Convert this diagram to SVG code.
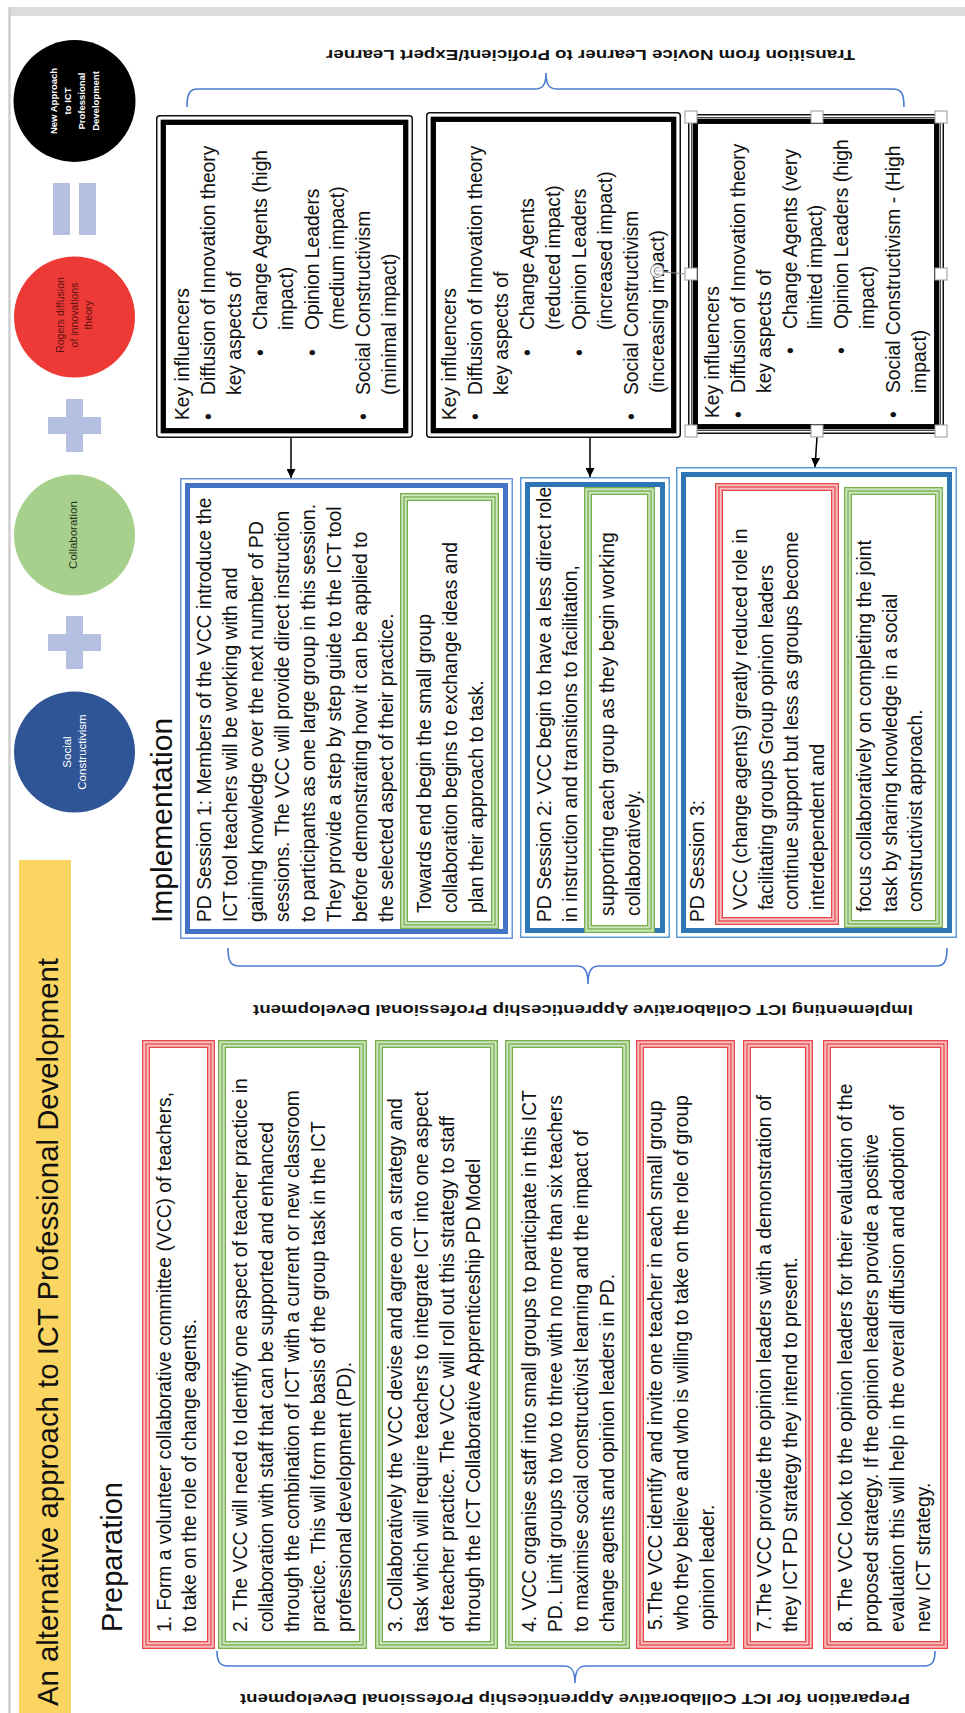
<svg xmlns="http://www.w3.org/2000/svg" width="965" height="1713" viewBox="0 0 965 1713">
<defs>
<style>
.t{font-family:"Liberation Sans",Arial,sans-serif;font-size:19.3px;fill:#111}
.hd{font-family:"Liberation Sans",Arial,sans-serif;font-size:30px;fill:#111}
.lbl{font-family:"Liberation Sans",Arial,sans-serif;font-weight:bold;font-size:15px;fill:#111}
.ct{font-family:"Liberation Sans",Arial,sans-serif;text-anchor:middle}
.kbo{fill:#fff;stroke:#111;stroke-width:1.5}
.kbi{fill:none;stroke:#000;stroke-width:5.3}
.s1o{fill:#fff;stroke:#6d93d8;stroke-width:1.5}
.s1i{fill:none;stroke:#4472c4;stroke-width:5}
.s2o{fill:#fff;stroke:#5a9bd5;stroke-width:1.5}
.s2i{fill:none;stroke:#2e75b6;stroke-width:5}
.rband{fill:#fff;stroke:#f8c0c0;stroke-width:8}
.rl{fill:none;stroke:#e8474a;stroke-width:1.3}
.gband{fill:#fff;stroke:#cfe5c0;stroke-width:8}
.gl{fill:none;stroke:#74af4c;stroke-width:1.3}
.brace{fill:none;stroke:#4a7bd0;stroke-width:1.6}
.sym{fill:#b4bfe2}
.hdl{fill:#fff;stroke:#9a9a9a;stroke-width:1}
.conn{stroke:#000;stroke-width:1.5;fill:none;marker-end:url(#ah)}
</style>
<marker id="ah" markerWidth="10" markerHeight="9" refX="9" refY="4.5" orient="auto" markerUnits="userSpaceOnUse"><path d="M0,0 L9,4.5 L0,9 Z" fill="#000"/></marker>
</defs>

<!-- page -->
<rect x="0" y="0" width="965" height="1713" fill="#fff"/>
<rect x="9" y="7" width="956" height="9" fill="#dcdcdc"/>
<line x1="9.5" y1="7" x2="9.5" y2="1713" stroke="#cccccc" stroke-width="2.4"/>

<!-- title bar -->
<g id="title">
<rect x="19" y="860" width="52" height="853" fill="#fad561"/>
<g transform="translate(0,1706) rotate(-90)"><text class="t" style="font-size:29px" x="0" y="58" textLength="748" lengthAdjust="spacingAndGlyphs">An alternative approach to ICT Professional Development</text></g>
</g>

<!-- equation of circles -->
<g id="new-approach">
<circle cx="74.5" cy="101" r="61" fill="#000"/>
<text class="ct" transform="translate(74.5,101) rotate(-90)" style="font-size:9.5px;font-weight:bold;fill:#fff"><tspan x="0" y="-17.5">New Approach</tspan><tspan x="0" y="-3.5">to ICT</tspan><tspan x="0" y="10.5">Professional</tspan><tspan x="0" y="24.5">Development</tspan></text>
</g>
<g id="equals">
<rect class="sym" x="53" y="183" width="17" height="52"/>
<rect class="sym" x="79" y="183" width="17" height="52"/>
</g>
<g id="rogers">
<circle cx="74.5" cy="317" r="60.5" fill="#ee3a36"/>
<text class="ct" transform="translate(74.5,315) rotate(-90)" style="font-size:10.5px;fill:#5e1212"><tspan x="0" y="-10.5">Rogers diffusion</tspan><tspan x="0" y="3.5">of innovations</tspan><tspan x="0" y="17.5">theory</tspan></text>
</g>
<g id="plus-1">
<rect class="sym" x="48" y="417" width="53" height="17"/>
<rect class="sym" x="66" y="399" width="17" height="53"/>
</g>
<g id="collaboration">
<circle cx="74.5" cy="535" r="60.5" fill="#a8d08d"/>
<text class="ct" transform="translate(74.5,535) rotate(-90)" style="font-size:11.5px;fill:#25361a"><tspan x="0" y="2.5">Collaboration</tspan></text>
</g>
<g id="plus-2">
<rect class="sym" x="48" y="634" width="53" height="17"/>
<rect class="sym" x="66" y="616" width="17" height="53"/>
</g>
<g id="social-constructivism">
<circle cx="74.5" cy="752" r="60.5" fill="#2f5597"/>
<text class="ct" transform="translate(74.5,752) rotate(-90)" style="font-size:11.5px;fill:#fff"><tspan x="0" y="-3.5">Social</tspan><tspan x="0" y="11.5">Constructivism</tspan></text>
</g>

<!-- headings -->
<g transform="translate(0,923) rotate(-90)"><text class="hd" x="0" y="171.5">Implementation</text></g>
<g transform="translate(0,1632) rotate(-90)"><text class="hd" style="font-size:29px" x="0" y="122">Preparation</text></g>

<!-- braces and their labels -->
<g id="braces">
<path class="brace" d="M187,107 C187,93 190,89 198,89 L535,89 C542,89 546,86 546,73 C546,86 550,89 557,89 L893,89 C901,89 904,93 904,107"/>
<path class="brace" d="M228,948 C228,962 231,966 239,966 L577,966 C584,966 588,970 588,984 C588,970 592,966 599,966 L936,966 C944,966 947,962 947,948"/>
<path class="brace" d="M217,1651 C217,1662 220,1666 228,1666 L564,1666 C571,1666 575,1670 575,1683 C575,1670 579,1666 586,1666 L924,1666 C932,1666 935,1662 935,1651"/>
<text class="lbl" transform="rotate(180 590.5 55)" x="590.5" y="60" text-anchor="middle" textLength="529" lengthAdjust="spacingAndGlyphs">Transition from Novice Learner to Proficient/Expert Learner</text>
<text class="lbl" transform="rotate(180 583 1010)" x="583" y="1015" text-anchor="middle" textLength="660" lengthAdjust="spacingAndGlyphs">Implementing ICT Collaborative Apprenticeship Professional Development</text>
<text class="lbl" transform="rotate(180 575 1699)" x="575" y="1704" text-anchor="middle" textLength="670" lengthAdjust="spacingAndGlyphs">Preparation for ICT Collaborative Apprenticeship Professional Development</text>
</g>

<!-- key influencer boxes -->
<g id="influencers-1">
<rect class="kbo" x="156.75" y="115.75" width="255.5" height="321.5" rx="3"/>
<rect class="kbi" x="163.3" y="122.3" width="242.4" height="308.4"/>
<g class="t" transform="translate(0,420) rotate(-90)">
<text x="0" y="189">Key influencers</text>
<text x="0" y="215">•</text><text x="25" y="215">Diffusion of Innovation theory</text>
<text x="25" y="241">key aspects of</text>
<text x="64" y="267">•</text><text x="90" y="267">Change Agents (high</text>
<text x="90" y="293">impact)</text>
<text x="64" y="319">•</text><text x="90" y="319">Opinion Leaders</text>
<text x="90" y="344">(medium impact)</text>
<text x="0" y="370">•</text><text x="25" y="370">Social Constructivism</text>
<text x="25" y="396">(minimal impact)</text>
</g>
</g>
<g id="influencers-2">
<rect class="kbo" x="426.75" y="112.75" width="253.5" height="324.5" rx="3"/>
<rect class="kbi" x="433.3" y="119.3" width="240.4" height="311.4"/>
<g class="t" transform="translate(0,420) rotate(-90)">
<text x="0" y="456">Key influencers</text>
<text x="0" y="482">•</text><text x="25" y="482">Diffusion of Innovation theory</text>
<text x="25" y="508">key aspects of</text>
<text x="64" y="534">•</text><text x="90" y="534">Change Agents</text>
<text x="90" y="560">(reduced impact)</text>
<text x="64" y="586">•</text><text x="90" y="586">Opinion Leaders</text>
<text x="90" y="612">(increased impact)</text>
<text x="0" y="638">•</text><text x="25" y="638">Social Constructivism</text>
<text x="27" y="664">(increasing impact)</text>
</g>
</g>
<g id="influencers-3">
<rect class="kbo" x="688.75" y="114.75" width="254.5" height="318.5"/>
<rect fill="none" stroke="#333" stroke-width="0.9" x="691.5" y="117.5" width="249" height="313"/>
<rect class="kbi" x="695.3" y="121.3" width="241.4" height="305.4"/>
<g class="t" transform="translate(0,418) rotate(-90)">
<text x="0" y="719">Key influencers</text>
<text x="0" y="745">•</text><text x="25" y="745">Diffusion of Innovation theory</text>
<text x="25" y="771">key aspects of</text>
<text x="64" y="797">•</text><text x="89" y="797">Change Agents (very</text>
<text x="89" y="822">limited impact)</text>
<text x="64" y="848">•</text><text x="89" y="848">Opinion Leaders (high</text>
<text x="89" y="874">impact)</text>
<text x="0" y="900">•</text><text x="25" y="900">Social Constructivism - (High</text>
<text x="25" y="926">impact)</text>
</g>
</g>

<!-- PD sessions -->
<g id="session-1">
<rect class="s1o" x="180.75" y="478.75" width="331.5" height="459.5"/>
<rect class="s1i" x="187.5" y="485.5" width="318" height="446"/>
<g class="t" transform="translate(0,922) rotate(-90)">
<text x="0" y="211">PD Session 1: Members of the VCC introduce the</text>
<text x="0" y="237">ICT tool teachers will be working with and</text>
<text x="0" y="263">gaining knowledge over the next number of PD</text>
<text x="0" y="289">sessions.  The VCC will provide direct instruction</text>
<text x="0" y="315">to participants as one large group in this session.</text>
<text x="0" y="341">They provide a step by step guide to the ICT tool</text>
<text x="0" y="367">before demonstrating how it can be applied to</text>
<text x="0" y="393">the selected aspect of their practice.</text>
</g>
<rect class="gband" x="404" y="497" width="91" height="428"/>
<rect class="gl" x="400.65" y="493.65" width="97.7" height="434.7"/>
<rect class="gl" x="404" y="497" width="91" height="428"/>
<rect class="gl" x="407.35" y="500.35" width="84.3" height="421.3"/>
<g class="t" transform="translate(0,913) rotate(-90)">
<text x="0" y="431">Towards end begin the small group</text>
<text x="0" y="457">collaboration begins to exchange ideas and</text>
<text x="0" y="483">plan their approach to task.</text>
</g>
</g>
<g id="session-2">
<rect class="s2o" x="520.75" y="477.75" width="148.5" height="459.5"/>
<rect class="s2i" x="527.5" y="484.5" width="135" height="446"/>
<g class="t" transform="translate(0,922) rotate(-90)">
<text x="0" y="551">PD Session 2: VCC begin to have a less direct role</text>
<text x="0" y="577">in instruction and transitions to facilitation,</text>
</g>
<rect class="gband" x="588" y="491" width="63" height="438"/>
<rect class="gl" x="584.65" y="487.65" width="69.7" height="444.7"/>
<rect class="gl" x="588" y="491" width="63" height="438"/>
<rect class="gl" x="591.35" y="494.35" width="56.3" height="431.3"/>
<g class="t" transform="translate(0,916) rotate(-90)">
<text x="0" y="614">supporting each group as they begin working</text>
<text x="0" y="640">collaboratively.</text>
</g>
</g>
<g id="session-3">
<rect class="s2o" x="676.75" y="467.75" width="279.5" height="469.5"/>
<rect class="s2i" x="683.5" y="474.5" width="266" height="456"/>
<g class="t" transform="translate(0,922) rotate(-90)">
<text x="0" y="704">PD Session 3:</text>
</g>
<rect class="rband" x="719" y="487" width="116" height="434"/>
<rect class="rl" x="715.65" y="483.65" width="122.7" height="440.7"/>
<rect class="rl" x="719" y="487" width="116" height="434"/>
<rect class="rl" x="722.35" y="490.35" width="109.3" height="427.3"/>
<g class="t" transform="translate(0,910) rotate(-90)">
<text x="0" y="747">VCC (change agents)  greatly reduced role in</text>
<text x="0" y="772.5">facilitating groups Group opinion leaders</text>
<text x="0" y="798">continue support but less as groups become</text>
<text x="0" y="823.5">interdependent and</text>
</g>
<rect class="gband" x="848" y="491" width="91" height="433"/>
<rect class="gl" x="844.65" y="487.65" width="97.7" height="439.7"/>
<rect class="gl" x="848" y="491" width="91" height="433"/>
<rect class="gl" x="851.35" y="494.35" width="84.3" height="426.3"/>
<g class="t" transform="translate(0,912) rotate(-90)">
<text x="0" y="871">focus collaboratively on completing the joint</text>
<text x="0" y="897">task by sharing knowledge in a social</text>
<text x="0" y="922">constructivist approach.</text>
</g>
</g>

<!-- preparation steps -->
<g id="step-1">
<rect class="rband" x="146" y="1044" width="65" height="601"/>
<rect class="rl" x="142.65" y="1040.65" width="71.7" height="607.7"/>
<rect class="rl" x="146" y="1044" width="65" height="601"/>
<rect class="rl" x="149.35" y="1047.35" width="58.3" height="594.3"/>
<g class="t" transform="translate(0,1632) rotate(-90)">
<text x="0" y="171">1. Form a volunteer collaborative committee (VCC) of teachers,</text>
<text x="0" y="196">to take on the role of change agents.</text>
</g>
</g>
<g id="step-2">
<rect class="gband" x="222" y="1044" width="141" height="601"/>
<rect class="gl" x="218.65" y="1040.65" width="147.7" height="607.7"/>
<rect class="gl" x="222" y="1044" width="141" height="601"/>
<rect class="gl" x="225.35" y="1047.35" width="134.3" height="594.3"/>
<g class="t" transform="translate(0,1632) rotate(-90)">
<text x="0" y="247">2. The VCC will need to Identify one aspect of teacher practice in</text>
<text x="0" y="273">collaboration with staff that can be supported and enhanced</text>
<text x="0" y="299">through the combination of ICT with a current or new classroom</text>
<text x="0" y="325">practice.  This will form the basis of the group task in the ICT</text>
<text x="0" y="351">professional development (PD).</text>
</g>
</g>
<g id="step-3">
<rect class="gband" x="379" y="1044" width="115" height="601"/>
<rect class="gl" x="375.65" y="1040.65" width="121.7" height="607.7"/>
<rect class="gl" x="379" y="1044" width="115" height="601"/>
<rect class="gl" x="382.35" y="1047.35" width="108.3" height="594.3"/>
<g class="t" transform="translate(0,1632) rotate(-90)">
<text x="0" y="402">3. Collaboratively the VCC devise and agree on a strategy and</text>
<text x="0" y="428">task which will require teachers to integrate ICT into one aspect</text>
<text x="0" y="454">of teacher practice.  The VCC will roll out this strategy to staff</text>
<text x="0" y="480">through the ICT Collaborative Apprenticeship PD Model</text>
</g>
</g>
<g id="step-4">
<rect class="gband" x="509" y="1044" width="117" height="601"/>
<rect class="gl" x="505.65" y="1040.65" width="123.7" height="607.7"/>
<rect class="gl" x="509" y="1044" width="117" height="601"/>
<rect class="gl" x="512.35" y="1047.35" width="110.3" height="594.3"/>
<g class="t" transform="translate(0,1632) rotate(-90)">
<text x="0" y="536">4. VCC organise staff into small groups to participate in this ICT</text>
<text x="0" y="562">PD. Limit groups to two to three with no more than six teachers</text>
<text x="0" y="588">to maximise social constructivist learning and the impact of</text>
<text x="0" y="614">change agents and opinion leaders in PD.</text>
</g>
</g>
<g id="step-5">
<rect class="rband" x="640" y="1044" width="91" height="601"/>
<rect class="rl" x="636.65" y="1040.65" width="97.7" height="607.7"/>
<rect class="rl" x="640" y="1044" width="91" height="601"/>
<rect class="rl" x="643.35" y="1047.35" width="84.3" height="594.3"/>
<g class="t" transform="translate(0,1630) rotate(-90)">
<text x="0" y="662">5.The VCC identify and invite one teacher in each small group</text>
<text x="0" y="688">who they believe and who is willing to take on the role of group</text>
<text x="0" y="714">opinion leader.</text>
</g>
</g>
<g id="step-7">
<rect class="rband" x="747" y="1044" width="62" height="601"/>
<rect class="rl" x="743.65" y="1040.65" width="68.7" height="607.7"/>
<rect class="rl" x="747" y="1044" width="62" height="601"/>
<rect class="rl" x="750.35" y="1047.35" width="55.3" height="594.3"/>
<g class="t" transform="translate(0,1632) rotate(-90)">
<text x="0" y="771">7.The VCC provide the opinion leaders with a demonstration of</text>
<text x="0" y="797">they ICT PD strategy they intend to present.</text>
</g>
</g>
<g id="step-8">
<rect class="rband" x="827" y="1044" width="117" height="601"/>
<rect class="rl" x="823.65" y="1040.65" width="123.7" height="607.7"/>
<rect class="rl" x="827" y="1044" width="117" height="601"/>
<rect class="rl" x="830.35" y="1047.35" width="110.3" height="594.3"/>
<g class="t" transform="translate(0,1632) rotate(-90)">
<text x="0" y="852">8. The VCC look to the opinion leaders for their evaluation of the</text>
<text x="0" y="878">proposed strategy.  If the opinion leaders provide a positive</text>
<text x="0" y="904">evaluation this will help in the overall diffusion and adoption of</text>
<text x="0" y="930">new ICT strategy.</text>
</g>
</g>

<!-- connectors -->
<g id="connectors">
<line class="conn" x1="291" y1="438" x2="291" y2="478"/>
<line class="conn" x1="590" y1="438" x2="590" y2="477"/>
<line class="conn" x1="817" y1="437" x2="815" y2="467"/>
</g>

<!-- selection handles on the third influencer box -->
<g id="selection">
<line x1="664" y1="272" x2="686" y2="274" stroke="#8a8a8a" stroke-width="1"/>
<circle cx="657" cy="271" r="6.5" fill="#fff" fill-opacity="0.85" stroke="#8a8a8a" stroke-width="1"/>
<path d="M659.5,268 A3.5,3.5 0 1 0 659.5,274" fill="none" stroke="#8a8a8a" stroke-width="1"/>
<rect class="hdl" x="685" y="111" width="12" height="12"/>
<rect class="hdl" x="811" y="111" width="12" height="12"/>
<rect class="hdl" x="935" y="111" width="12" height="12"/>
<rect class="hdl" x="685" y="268" width="12" height="12"/>
<rect class="hdl" x="935" y="268" width="12" height="12"/>
<rect class="hdl" x="685" y="425" width="12" height="12"/>
<rect class="hdl" x="811" y="425" width="12" height="12"/>
<rect class="hdl" x="935" y="425" width="12" height="12"/>
</g>
</svg>
